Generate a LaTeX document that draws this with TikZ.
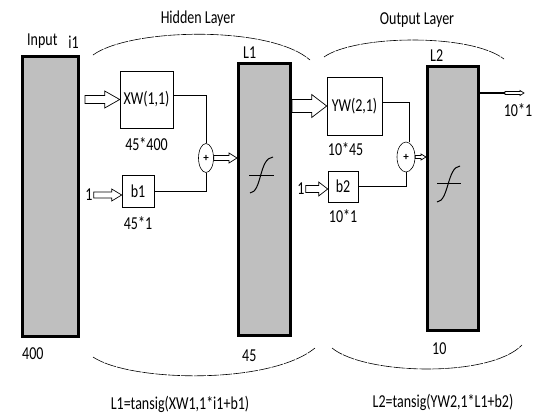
\documentclass[tikz,border=0pt]{standalone}
\usepackage{fontspec}
\setmainfont{Carlito}
\usetikzlibrary{arrows.meta,positioning,shapes.geometric,calc}

\newcommand{\tall}[1]{\scalebox{1}[1.3]{#1}}
% hollow block arrow: from, to, shaft half width, head half width, head length
\newcommand{\blockarrow}[5]{%
  \draw[arrowline] let \p1=(#1), \p2=(#2) in
    (\x1,\y1+#3) -- (\x2-#5,\y1+#3) -- (\x2-#5,\y1+#4) -- (\x2,\y1)
    -- (\x2-#5,\y1-#4) -- (\x2-#5,\y1-#3) -- (\x1,\y1-#3) -- cycle;}

\begin{document}
\begin{tikzpicture}[x=1pt,y=-1pt,
    node distance=6pt,
    every node/.style={font=\fontsize{14}{16}\selectfont, inner sep=1pt},
    layer/.style={draw, line width=3pt, fill=gray!50, anchor=north west, inner sep=0pt},
    wbox/.style={draw, line width=0.6pt, inner sep=0pt},
    sum/.style={draw, ellipse, line width=0.6pt, inner sep=0pt, font=\fontsize{11}{12}\selectfont\bfseries},
    wire/.style={line width=0.8pt},
    bracket/.style={line width=0.6pt, dash pattern=on 12pt off 1pt},
    arrowline/.style={line width=0.7pt, fill=white}
]
\useasboundingbox (0,0) rectangle (535,413);

% layers
\node[layer, minimum width=56pt, minimum height=280pt] (in) at (21,55) {};
\node[layer, minimum width=52pt, minimum height=272pt] (L1) at (237,62) {};
\node[layer, minimum width=51pt, minimum height=264pt] (L2) at (426,65) {};

% weights, biases and sums
\node[wbox, minimum width=53pt, minimum height=57pt] (XW) at (146.5,99.5) {\tall{XW(1,1)}};
\node[wbox, minimum width=32pt, minimum height=32pt] (b1) at (138,191) {\tall{b1}};
\node[wbox, minimum width=55pt, minimum height=58pt] (YW) at (354.5,106) {\tall{YW(2,1)}};
\node[wbox, minimum width=30pt, minimum height=31pt] (b2) at (343,186.5) {\tall{b2}};
\node[sum, minimum width=15pt, minimum height=29pt] (s1) at (206,158) {+};
\node[sum, minimum width=18pt, minimum height=30pt] (s2) at (406,157) {+};

% labels
\node[above right=5pt and 5pt of in.north west] (inlbl) {\tall{Input}};
\node[above left=5pt and 0pt of in.north east] (i1) {\tall{i1}};
\node[below right=8pt and 0pt of in.south west] (n400) {\tall{400}};
\node[above right=2pt and 5pt of L1.north west] (L1lbl) {\tall{L1}};
\node[below right=12pt and 4pt of L1.south west] (n45) {\tall{45}};
\node[above right=2pt and 3pt of L2.north west] (L2lbl) {\tall{L2}};
\node[below right=9pt and 5pt of L2.south west] (n10) {\tall{10}};
\node[below=8pt of XW] (XWdim) {\tall{45*400}};
\node[below=8pt of b1] (b1dim) {\tall{45*1}};
\node[below right=6pt and 0pt of YW.south west] (YWdim) {\tall{10*45}};
\node[below right=6pt and 0pt of b2.south west] (b2dim) {\tall{10*1}};
\node (one1) at (89,195) {\tall{1}};
\node (one2) at (301,189) {\tall{1}};
\coordinate (out) at (524,93);
\node (outdim) at (518,110) {\tall{10*1}};

\node (hidden) at (198,19) {\tall{Hidden Layer}};
\node (output) at (417,20) {\tall{Output Layer}};
\node (eq1) at (180,404) {\tall{L1=tansig(XW1,1*i1+b1)}};
\node (eq2) at (443,402) {\tall{L2=tansig(YW2,1*L1+b2)}};

% transfer function symbols
\draw[line width=1pt] (250,193) .. controls (262,192) and (259,158) .. (273,157);
\draw[line width=0.8pt] (249,175) -- (274,175);
\draw[line width=1pt] (437,202) .. controls (449,201) and (447,167) .. (460,166);
\draw[line width=0.8pt] (437,183) -- (461,183);

% layer brackets
\draw[bracket] (93,55) .. controls (130,28) and (270,25) .. (310,60);
\draw[bracket] (93,357) .. controls (130,382) and (270,385) .. (315,348);
\draw[bracket] (324,57) .. controls (355,35) and (470,33) .. (504,59);
\draw[bracket] (332,348) .. controls (365,375) and (490,378) .. (522,345);

% wires
\draw[wire] ([yshift=4pt]XW.east) -| (s1.north);
\draw[wire] (b1.east) -| (s1.south);
\draw[wire] ([yshift=4pt]YW.east) -| ([xshift=3pt]s2.north);
\draw[wire] (b2.east) -| (s2.south);
\draw[line width=2pt] (L2.east |- out) -- ++(25,0);

% hollow arrows
\blockarrow{$(in.east |- XW.west)+(5,0)$}{XW.west}{4pt}{8.5pt}{15pt}
\blockarrow{one1.east}{b1.west}{3pt}{6pt}{10pt}
\blockarrow{L1.east |- YW.west}{YW.west}{6.5pt}{11.5pt}{15pt}
\blockarrow{s1.east}{L1.west}{2.5pt}{5pt}{8pt}
\blockarrow{one2.east}{b2.west}{3.5pt}{7pt}{9pt}
\blockarrow{s2.east}{L2.west}{1.5pt}{3pt}{5pt}
\blockarrow{$(L2.east |- out)+(25,0)$}{out}{1.5pt}{2.5pt}{4pt}
\end{tikzpicture}
\end{document}
